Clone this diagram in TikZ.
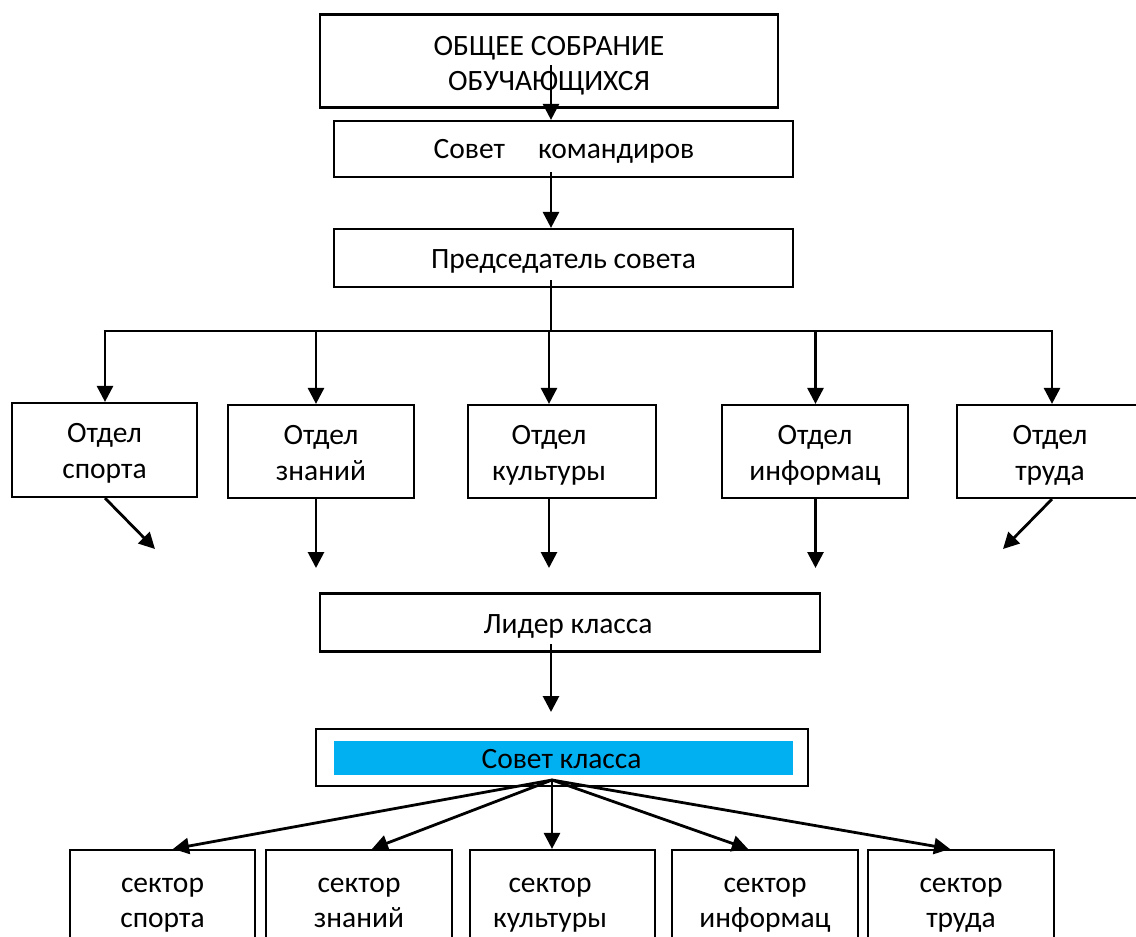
\documentclass[tikz,border=0pt]{standalone}
\usepackage{fontspec}
\setmainfont{Carlito}
\usetikzlibrary{arrows.meta}
\definecolor{skyblue}{HTML}{00B0F0}
\begin{document}
\begin{tikzpicture}[x=1pt,y=-1pt,
  box/.style={draw=black,line width=2.2pt,inner sep=0pt},
  txt/.style={inner sep=0pt,anchor=base,font=\fontsize{29.5}{36}\selectfont},
  arr/.style={line width=2.8pt,-{Triangle[length=16pt,width=16pt]}},
  ln/.style={line width=2.8pt}]
\useasboundingbox (0,0) rectangle (1136,937);
% ---- boxes
\node[box,minimum width=458pt,minimum height=93pt] (top) at (549,61) {};
\node[box,minimum width=459pt,minimum height=56pt] (kom) at (563.5,149) {};
\node[box,minimum width=459pt,minimum height=58pt] (pred) at (563.5,258) {};
\node[box,minimum width=185pt,minimum height=94pt] (o1) at (104.5,450) {};
\node[box,minimum width=186pt,minimum height=93pt] (o2) at (321,451.5) {};
\node[box,minimum width=188pt,minimum height=93pt] (o3) at (562,451.5) {};
\node[box,minimum width=186pt,minimum height=93pt] (o4) at (815,451.5) {};
\node[box,minimum width=188pt,minimum height=93pt] (o5) at (1051,451.5) {};
\node[box,minimum width=500pt,minimum height=58pt] (lead) at (570,622.5) {};
\node[box,minimum width=492pt,minimum height=57pt] (cout) at (562,757.5) {};
\node[fill=skyblue,inner sep=0pt,minimum width=459pt,minimum height=34pt] (cin) at (563.5,758) {};
\node[box,minimum width=185pt,minimum height=110pt] (s1) at (162.5,905) {};
\node[box,minimum width=186pt,minimum height=110pt] (s2) at (359,905) {};
\node[box,minimum width=185pt,minimum height=110pt] (s3) at (562.5,905) {};
\node[box,minimum width=186pt,minimum height=110pt] (s4) at (765,905) {};
\node[box,minimum width=186pt,minimum height=110pt] (s5) at (961,905) {};
% ---- texts
\node[txt] (top1) at (549,55) {ОБЩЕЕ СОБРАНИЕ};
\node[txt] (top2) at (549,90) {ОБУЧАЮЩИХСЯ};
\node[txt] (komt) at (564,158.5) {Совет\hspace{33pt}командиров};
\node[txt] (predt) at (563.5,268) {Председатель совета};
\node[txt] (o1a) at (104.5,442) {Отдел};
\node[txt] (o1b) at (104.5,478) {спорта};
\node[txt] (o2a) at (321,444) {Отдел};
\node[txt] (o2b) at (321,480) {знаний};
\node[txt] (o3a) at (549,444) {Отдел};
\node[txt] (o3b) at (549,480) {культуры};
\node[txt] (o4a) at (815,444) {Отдел};
\node[txt] (o4b) at (815,480) {информац};
\node[txt] (o5a) at (1050,444) {Отдел};
\node[txt] (o5b) at (1050,480) {труда};
\node[txt] (leadt) at (568,633) {Лидер класса};
\node[txt] (cint) at (561.5,768) {Совет класса};
\node[txt] (s1a) at (162.5,892) {сектор};
\node[txt] (s1b) at (162.5,927) {спорта};
\node[txt] (s2a) at (359,892) {сектор};
\node[txt] (s2b) at (359,927) {знаний};
\node[txt] (s3a) at (550,892) {сектор};
\node[txt] (s3b) at (550,927) {культуры};
\node[txt] (s4a) at (765,892) {сектор};
\node[txt] (s4b) at (765,927) {информац};
\node[txt] (s5a) at (961,892) {сектор};
\node[txt] (s5b) at (961,927) {труда};
% ---- connectors
\coordinate (a1) at (551,65);
\draw[arr] (a1) -- (a1 |- kom.north);
\coordinate (a2) at (551,172);
\draw[arr] (a2) -- (a2 |- pred.north);
\coordinate (a3) at (551,280);
\coordinate (bus) at (551,331);
\draw[ln] (a3) -- (bus);
\coordinate (p1) at (105,331);
\coordinate (p2) at (316,331);
\coordinate (p3) at (549,331);
\coordinate (p4) at (815.5,331);
\coordinate (p5) at (1052,331);
\draw[ln] ([xshift=-1.4pt]p1) -- ([xshift=1.4pt]p5);
\draw[arr] (p1) -- (p1 |- o1.north);
\draw[arr] (p2) -- (p2 |- o2.north);
\draw[arr] (p3) -- (p3 |- o3.north);
\draw[arr] (p4) -- (p4 |- o4.north);
\draw[arr] (p5) -- (p5 |- o5.north);
\coordinate (d1) at (155,549);
\coordinate (d5) at (1003,549);
\coordinate (e2) at (316,568);
\coordinate (e3) at (549,568);
\coordinate (e4) at (815.5,568);
\draw[arr] (p1 |- o1.south) -- (d1);
\draw[arr] (p5 |- o5.south) -- (d5);
\draw[arr] (e2 |- o2.south) -- (e2);
\draw[arr] (e3 |- o3.south) -- (e3);
\draw[arr] (e4 |- o4.south) -- (e4);
\coordinate (b1) at (551,644);
\coordinate (b2) at (551,712);
\draw[arr] (b1) -- (b2);
\coordinate (f) at (552,780);
\draw[arr] (f) -- ([xshift=10.5pt]s1.north);
\draw[arr] (f) -- ([xshift=13pt]s2.north);
\draw[arr] (f) -- (f |- s3.north);
\draw[arr] (f) -- ([xshift=-17pt]s4.north);
\draw[arr] (f) -- ([xshift=-11pt]s5.north);
\end{tikzpicture}
\end{document}
